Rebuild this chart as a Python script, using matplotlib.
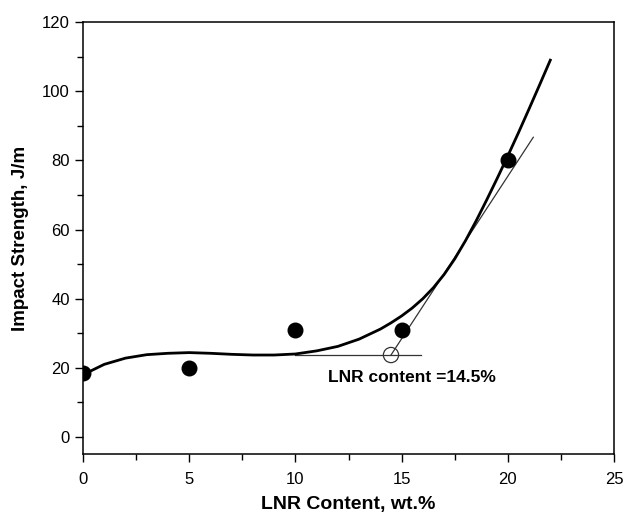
import numpy as np
import matplotlib.pyplot as plt

plt.rcParams['font.family'] = ['Liberation Sans', 'DejaVu Sans']

# measured data
lnr = [0, 5, 10, 15, 20]
impact = [18.5, 20, 31, 31, 80]

# fitted curve
fit_x = [0, 1, 2, 3, 4, 5, 6, 7, 8, 9, 10, 11, 12, 13, 14, 14.5, 15, 15.5, 16, 16.5,
         17, 17.5, 18, 18.5, 19, 19.5, 20, 20.5, 21, 21.5, 22]
fit_y = [18.0, 21.0, 22.8, 23.8, 24.2, 24.4, 24.2, 23.9, 23.7, 23.7, 24.0, 24.9, 26.2,
         28.3, 31.2, 33.0, 35.0, 37.3, 40.0, 43.2, 47.0, 51.5, 56.7, 62.4, 68.5, 74.8,
         81.3, 88.0, 94.9, 101.9, 109.0]

# construction lines for the onset point
base_x = [10, 15.9]
base_y = [23.7, 23.7]
tan_x = [14.5, 21.2]
tan_y = [23.7, 86.7]
onset = (14.5, 23.7)

fig = plt.figure(figsize=(6.24, 5.15), dpi=100)
ax = fig.add_axes([0.133, 0.118, 0.851, 0.839])

ax.plot(fit_x, fit_y, color='black', lw=2.0, zorder=3)
ax.plot(base_x, base_y, color='#333333', lw=0.9, zorder=2)
ax.plot(tan_x, tan_y, color='#333333', lw=0.9, zorder=2)
ax.scatter(lnr, impact, s=110, color='black', zorder=4)
ax.scatter([onset[0]], [onset[1]], s=120, facecolors='none', edgecolors='#333333',
           linewidths=0.9, zorder=4)

ax.text(11.55, 17.2, 'LNR content =14.5%', fontsize=12.5, fontweight='bold', va='center')

ax.set_xlim(0, 25)
ax.set_ylim(-5, 120)
ax.set_xticks([0, 5, 10, 15, 20, 25])
ax.set_xticks(np.arange(2.5, 25, 5), minor=True)
ax.set_yticks([0, 20, 40, 60, 80, 100, 120])
ax.set_yticks(np.arange(10, 120, 20), minor=True)
ax.tick_params(which='both', direction='out', top=False, right=False, labelsize=12)
ax.tick_params(which='major', length=6, width=1)
ax.tick_params(which='minor', length=4, width=1)
ax.tick_params(axis='x', pad=7)
for sp in ax.spines.values():
    sp.set_linewidth(1.1)

ax.set_xlabel('LNR Content, wt.%', fontsize=14, fontweight='bold', labelpad=6)
ax.set_ylabel('Impact Strength, J/m', fontsize=13.5, fontweight='bold', labelpad=9)

fig.savefig('out.png', dpi=100)
